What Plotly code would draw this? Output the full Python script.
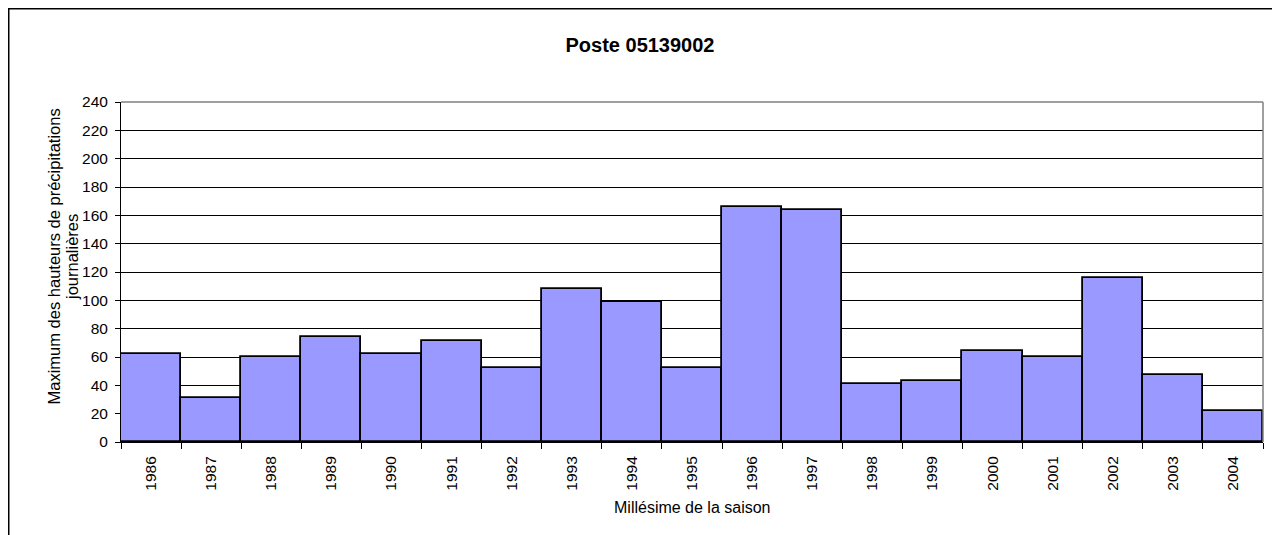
import plotly.graph_objects as go

years = ["1986", "1987", "1988", "1989", "1990", "1991", "1992", "1993", "1994", "1995",
         "1996", "1997", "1998", "1999", "2000", "2001", "2002", "2003", "2004"]
maxima = [62, 31, 60, 74, 62, 71, 52, 108, 99, 52, 166, 164, 41, 43, 64, 60, 116, 47, 22]
y_ticks = list(range(0, 241, 20))

# figure is placed 8px from page edge (body margin)
L, R, T, B = 113, 1255, 94, 434
W, H = 1280, 535

fig = go.Figure(go.Bar(
    x=years, y=maxima,
    marker=dict(color="#9999FF", line=dict(color="black", width=1.8)),
    width=1.0,
))

def px_x(p):
    return (p - L) / (R - L)

def px_y(p):
    return (B - p) / (B - T)

FONT = "Liberation Sans, Arial, sans-serif"

fig.update_layout(
    width=W, height=H,
    margin=dict(l=L, r=W - R, t=T, b=H - B),
    paper_bgcolor="white", plot_bgcolor="white",
    bargap=0,
    showlegend=False,
    font=dict(family=FONT, size=15.5, color="black"),
    title=dict(text="<b>Poste 05139002</b>", x=632 / W, xanchor="center",
               y=1 - 37 / H, yanchor="middle",
               font=dict(size=20, family=FONT)),
    xaxis=dict(
        type="category", tickangle=-90, tickson="boundaries",
        ticks="outside", ticklen=6, tickcolor="black",
        showline=True, linecolor="black", linewidth=1, mirror=False,
        showgrid=False,
        ticklabelstandoff=7,
        tickfont=dict(size=15.5),
    ),
    yaxis=dict(
        range=[0, 240], tickvals=y_ticks, ticks="outside", ticklen=5, tickcolor="black",
        showline=True, linecolor="black", linewidth=1,
        showgrid=True, gridcolor="black", gridwidth=1,
        zeroline=False,
        ticklabelstandoff=4,
        tickfont=dict(size=15.5),
    ),
    annotations=[
        dict(text="Maximum des hauteurs de précipitations", xref="paper", yref="paper",
             x=px_x(45.5), y=px_y(249), xanchor="center", yanchor="middle",
             textangle=-90, showarrow=False, font=dict(size=16.5, family=FONT)),
        dict(text="journalières", xref="paper", yref="paper",
             x=px_x(64), y=px_y(249), xanchor="center", yanchor="middle",
             textangle=-90, showarrow=False, font=dict(size=16.5, family=FONT)),
        dict(text="Millésime de la saison", xref="paper", yref="paper",
             x=0.5, y=px_y(499), xanchor="center", yanchor="middle",
             showarrow=False, font=dict(size=16, family=FONT)),
    ],
    shapes=[
        dict(type="rect", xref="paper", yref="paper",
             x0=px_x(0.75), x1=px_x(1300), y0=px_y(560), y1=px_y(0.75),
             line=dict(color="black", width=1.5), fillcolor="rgba(0,0,0,0)", layer="below"),
        dict(type="line", xref="paper", yref="paper", x0=1, x1=1, y0=0, y1=1,
             line=dict(color="#808080", width=1.5)),
        dict(type="line", xref="paper", yref="paper", x0=0, x1=1, y0=1, y1=1,
             line=dict(color="#808080", width=1.5)),
    ],
)

fig.write_html("out.html")
